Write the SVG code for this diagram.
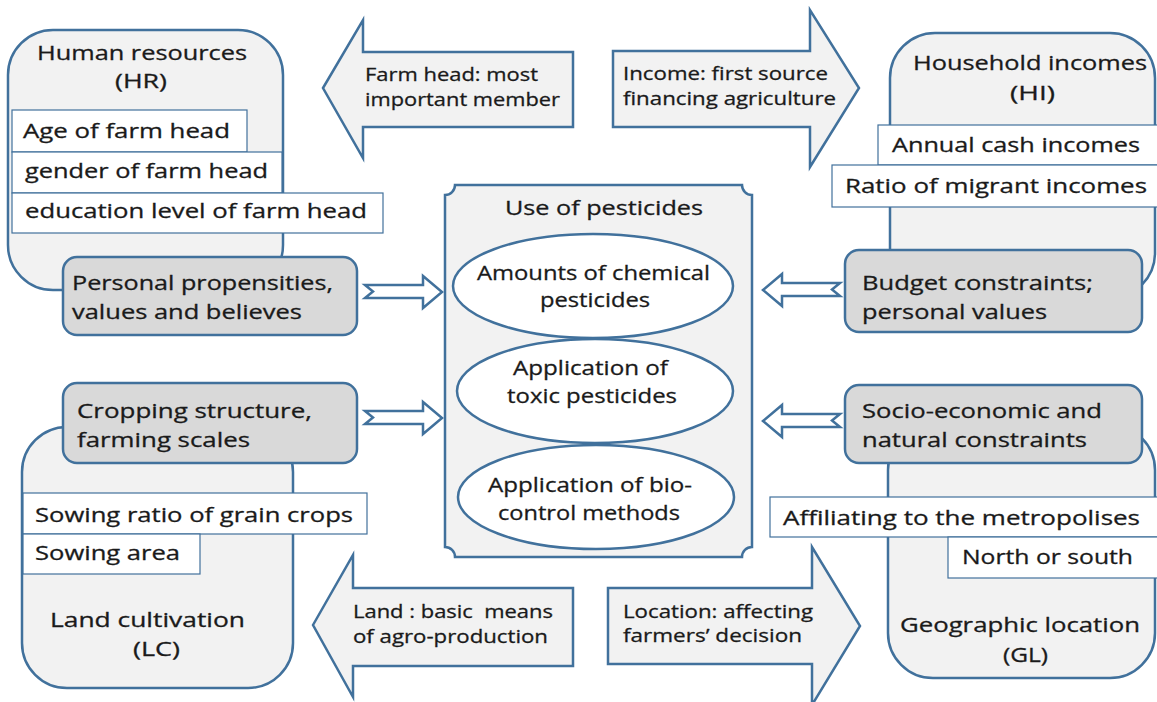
<svg xmlns="http://www.w3.org/2000/svg" width="1157" height="702" viewBox="0 0 1157 702">
<style>
.main{fill:#f2f2f2;stroke:#41719c;stroke-width:2.5}
.gray{fill:#d9d9d9;stroke:#41719c;stroke-width:2.5}
.wbox{fill:#ffffff;stroke:#41719c;stroke-width:1.2}
.big{fill:#f2f2f2;stroke:#41719c;stroke-width:2.5;stroke-linejoin:miter}
.hollow{fill:#ffffff;stroke:#41719c;stroke-width:2.5;stroke-linejoin:miter}
.ell{fill:#ffffff;stroke:#41719c;stroke-width:2.5}
text{font-family:"Open Sans","Liberation Sans",sans-serif;font-size:20px;fill:#1a1a1a;stroke:#1a1a1a;stroke-width:0.3;white-space:pre}
.s{font-size:19px}
</style>
<rect width="1157" height="702" fill="#ffffff"/>

<g id="connectors">
  <polygon class="big" points="323,88 363,20 363,52 573,52 573,127 363,127 363,158"/>
  <polygon class="big" points="613,51 810,51 810,10 859,88 810,167 810,127 613,127"/>
  <polygon class="big" points="313,625 353,555 353,588 573,588 573,666 353,666 353,697"/>
  <polygon class="big" points="608,588 812,588 812,547 860,626 812,705 812,664 608,664"/>
  <polygon class="hollow" points="365,285 423,285 423,276 442,292 423,308 423,298 365,298 373,291.5"/>
  <polygon class="hollow" points="365,411 423,411 423,402 442,418 423,434 423,424 365,424 373,417.5"/>
  <polygon class="hollow" points="840,283 782,283 782,274 763,290 782,306 782,296 840,296 832,289.5"/>
  <polygon class="hollow" points="840,414 782,414 782,405 763,421 782,437 782,427 840,427 832,420.5"/>
  <text class="s" x="365" y="81" textLength="173" lengthAdjust="spacingAndGlyphs">Farm head: most</text>
  <text class="s" x="365" y="106" textLength="195" lengthAdjust="spacingAndGlyphs">important member</text>
  <text class="s" x="623" y="80" textLength="205" lengthAdjust="spacingAndGlyphs">Income: first source</text>
  <text class="s" x="623" y="105" textLength="213" lengthAdjust="spacingAndGlyphs">financing agriculture</text>
  <text class="s" x="353" y="618" textLength="200" lengthAdjust="spacingAndGlyphs">Land : basic  means</text>
  <text class="s" x="353" y="643" textLength="195" lengthAdjust="spacingAndGlyphs">of agro-production</text>
  <text class="s" x="623" y="618" textLength="190" lengthAdjust="spacingAndGlyphs">Location: affecting</text>
  <text class="s" x="623" y="642" textLength="179" lengthAdjust="spacingAndGlyphs">farmers’ decision</text>
</g>

<g id="hr">
  <rect class="main" x="8" y="30" width="275" height="260" rx="45"/>
  <text x="37" y="60" textLength="210" lengthAdjust="spacingAndGlyphs">Human resources</text>
  <text x="115" y="88" textLength="52" lengthAdjust="spacingAndGlyphs">(HR)</text>
  <rect class="wbox" x="12" y="110" width="235" height="42"/>
  <rect class="wbox" x="12" y="152" width="270" height="41"/>
  <rect class="wbox" x="12" y="193" width="371" height="40"/>
  <text x="23" y="138" textLength="207" lengthAdjust="spacingAndGlyphs">Age of farm head</text>
  <text x="25" y="178" textLength="243" lengthAdjust="spacingAndGlyphs">gender of farm head</text>
  <text x="25" y="218" textLength="342" lengthAdjust="spacingAndGlyphs">education level of farm head</text>
</g>
<g id="hr-factor">
  <rect class="gray" x="63" y="257" width="294" height="78" rx="14"/>
  <text x="72" y="290" textLength="261" lengthAdjust="spacingAndGlyphs">Personal propensities,</text>
  <text x="72" y="319" textLength="230" lengthAdjust="spacingAndGlyphs">values and believes</text>
</g>

<g id="hi">
  <rect class="main" x="890" y="33" width="265" height="265" rx="45"/>
  <text x="913" y="70" textLength="234" lengthAdjust="spacingAndGlyphs">Household incomes</text>
  <text x="1010" y="100" textLength="45" lengthAdjust="spacingAndGlyphs">(HI)</text>
  <rect class="wbox" x="878" y="125" width="285" height="40"/>
  <rect class="wbox" x="832" y="165" width="331" height="42"/>
  <text x="892" y="152" textLength="248" lengthAdjust="spacingAndGlyphs">Annual cash incomes</text>
  <text x="845" y="193" textLength="302" lengthAdjust="spacingAndGlyphs">Ratio of migrant incomes</text>
</g>
<g id="hi-factor">
  <rect class="gray" x="845" y="250" width="297" height="82" rx="14"/>
  <text x="862" y="290" textLength="231" lengthAdjust="spacingAndGlyphs">Budget constraints;</text>
  <text x="862" y="319" textLength="185" lengthAdjust="spacingAndGlyphs">personal values</text>
</g>

<g id="lc">
  <rect class="main" x="22" y="427" width="271" height="261" rx="45"/>
  <rect class="wbox" x="23" y="493" width="344" height="41"/>
  <rect class="wbox" x="23" y="534" width="177" height="40"/>
  <text x="35" y="522" textLength="318" lengthAdjust="spacingAndGlyphs">Sowing ratio of grain crops</text>
  <text x="35" y="560" textLength="145" lengthAdjust="spacingAndGlyphs">Sowing area</text>
  <text x="50" y="627" textLength="195" lengthAdjust="spacingAndGlyphs">Land cultivation</text>
  <text x="133" y="656" textLength="47" lengthAdjust="spacingAndGlyphs">(LC)</text>
</g>
<g id="lc-factor">
  <rect class="gray" x="63" y="383" width="294" height="80" rx="14"/>
  <text x="77" y="418" textLength="235" lengthAdjust="spacingAndGlyphs">Cropping structure,</text>
  <text x="77" y="447" textLength="173" lengthAdjust="spacingAndGlyphs">farming scales</text>
</g>

<g id="gl">
  <rect class="main" x="888" y="425" width="267" height="253" rx="45"/>
  <rect class="wbox" x="770" y="497" width="392" height="40"/>
  <rect class="wbox" x="948" y="537" width="214" height="41"/>
  <text x="783" y="525" textLength="357" lengthAdjust="spacingAndGlyphs">Affiliating to the metropolises</text>
  <text x="962" y="564" textLength="171" lengthAdjust="spacingAndGlyphs">North or south</text>
  <text x="900" y="632" textLength="240" lengthAdjust="spacingAndGlyphs">Geographic location</text>
  <text x="1003" y="662" textLength="45" lengthAdjust="spacingAndGlyphs">(GL)</text>
</g>
<g id="gl-factor">
  <rect class="gray" x="845" y="385" width="297" height="78" rx="14"/>
  <text x="862" y="418" textLength="240" lengthAdjust="spacingAndGlyphs">Socio-economic and</text>
  <text x="862" y="447" textLength="225" lengthAdjust="spacingAndGlyphs">natural constraints</text>
</g>

<g id="use-of-pesticides">
  <path class="main" d="M455,185 L742,185 A10,10 0 0 0 752,195 L752,547 A10,10 0 0 0 742,557 L455,557 A10,10 0 0 0 445,547 L445,195 A10,10 0 0 0 455,185 Z"/>
  <text x="505" y="215" textLength="198" lengthAdjust="spacingAndGlyphs">Use of pesticides</text>
</g>
<g id="amounts">
  <ellipse class="ell" cx="593" cy="286" rx="140" ry="52"/>
  <text x="477" y="280" textLength="233" lengthAdjust="spacingAndGlyphs">Amounts of chemical</text>
  <text x="540" y="307" textLength="110" lengthAdjust="spacingAndGlyphs">pesticides</text>
</g>
<g id="toxic">
  <ellipse class="ell" cx="595" cy="391" rx="138" ry="52"/>
  <text x="513" y="375" textLength="155" lengthAdjust="spacingAndGlyphs">Application of</text>
  <text x="507" y="403" textLength="170" lengthAdjust="spacingAndGlyphs">toxic pesticides</text>
</g>
<g id="biocontrol">
  <ellipse class="ell" cx="596" cy="497" rx="138" ry="52"/>
  <text x="488" y="492" textLength="204" lengthAdjust="spacingAndGlyphs">Application of bio-</text>
  <text x="498" y="520" textLength="182" lengthAdjust="spacingAndGlyphs">control methods</text>
</g>
</svg>
